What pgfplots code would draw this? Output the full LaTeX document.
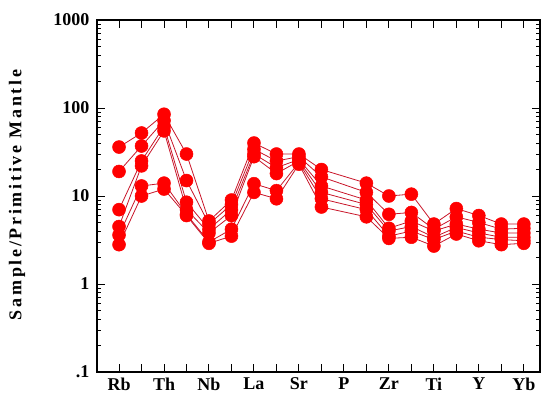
\documentclass[border=0pt]{standalone}
\usepackage{pgfplots}
\pgfplotsset{compat=1.18}
\usepackage{pgfplotstable}
\usepackage{fontspec}
\setmainfont{Liberation Serif}
\newfontfamily\labfont[LetterSpace=15]{Liberation Serif}
\definecolor{mk}{RGB}{255,0,0}
\definecolor{ln}{RGB}{200,20,40}

\pgfplotstableread{
x s1 s2 s3 s4 s5 s6
0 36 19 7 4.5 3.6 2.8
1 52 37 25 22 13 10
2 85 72 62 55 14 12
3 30 15 8.5 7 6.2 6
4 5.2 4.8 4.2 3.8 3.0 2.9
5 9 8 7 6 4.2 3.5
6 40 34 30 28 13.8 11
7 30 25 21 18 11.5 9.3
8 30 28 26 25 24 23
9 20 16.5 13 11 9.3 7.5
11 14 11 9 8 7 5.8
12 10 6.2 4.3 4 3.5 3.3
13 10.5 6.5 5.2 4.5 4 3.4
14 4.8 4.2 4.0 3.4 3.2 2.7
15 7.2 5.8 4.8 4.4 4.0 3.7
16 6 5 4.2 3.8 3.4 3.1
17 4.8 4.2 3.8 3.4 3.2 2.8
18 4.8 4.3 3.8 3.4 3.1 2.9
}\data

\begin{document}
\begin{tikzpicture}
\path[use as bounding box] (-97bp,-32bp) rectangle (447bp,372bp);
\begin{axis}[
  at={(0,0)}, anchor=south west,
  scale only axis, width=443bp, height=352bp,
  ymode=log, ymin=0.1, ymax=1000,
  xmin=-0.98, xmax=18.72,
  xtick={0,...,18},
  xticklabels={Rb,,Th,,Nb,,La,,Sr,,P,,Zr,,Ti,,Y,,Yb},
  ytick={0.1,1,10,100,1000},
  yticklabels={.1,1,10,100,1000},
  tick align=inside,
  xtick pos=both, ytick pos=both,
  major tick length=8bp, minor tick length=4.5bp,
  tick style={black, line width=1bp},
  axis line style={black, line width=1.3bp},
  ticklabel style={font=\fontsize{18bp}{20bp}\selectfont\bfseries},
  yticklabel style={xshift=-4bp},
  xticklabel style={yshift=-2bp},
  clip=false,
]
\foreach \s in {s1,s2,s3,s4,s5,s6}{
  \addplot[ln, line width=0.8bp, no marks] table[x=x, y=\s] {\data};
}
\foreach \s in {s1,s2,s3,s4,s5,s6}{
  \addplot[only marks, mark=*, mark size=6.5bp, mark options={fill=mk, draw=mk, line width=0.5bp}] table[x=x, y=\s] {\data};
}
\end{axis}
\node[rotate=90, font=\labfont\fontsize{18bp}{20bp}\selectfont\bfseries] at (-80bp,177bp) {Sample/Primitive Mantle};
\end{tikzpicture}
\end{document}
